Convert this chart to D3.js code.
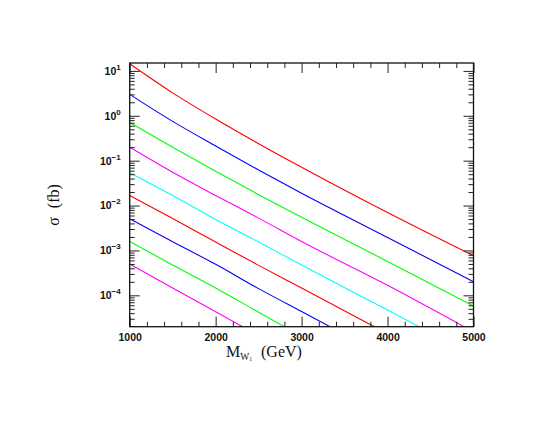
<!DOCTYPE html>
<meta charset="utf-8">
<style>
  body { margin: 0; background: #fff; }
  svg { display: block; }
  .tick line { stroke: #222; stroke-width: 1; }
  .lab { font-family: "Liberation Sans", Arial, sans-serif; font-weight: bold; fill: #111; }
  .title { font-family: "Liberation Serif", "DejaVu Serif", serif; fill: #111; }
</style>
<body>
<div id="chart"></div>
<script src="https://d3js.org/d3.v7.min.js"></script>
<script>
  const mass = [1000, 1500, 2000, 2500, 3000, 4000, 5000];

  // cross sections (fb), top curve first; null = already below the frame
  const red1     = [14.5, 3.24, 0.845, 0.239, 0.0713, 6.98e-3, 7.6e-4];
  const blue1    = [3.0, 0.75, 0.212, 0.062, 0.0189, 1.95e-3, 2.0e-4];
  const green1   = [0.71, 0.199, 0.058, 0.0175, 5.5e-3, 5.7e-4, 5.8e-5];
  const magenta1 = [0.199, 0.0552, 0.0167, 5.25e-3, 1.58e-3, 1.67e-4, null];
  const cyan1    = [0.054, 0.0167, 4.9e-3, 1.54e-3, 4.74e-4, 4.7e-5, null];
  const red2     = [0.0167, 5.14e-3, 1.54e-3, 4.65e-4, 1.46e-4, null, null];
  const blue2    = [5.06e-3, 1.56e-3, 4.9e-4, 1.41e-4, 4.35e-5, null, null];
  const green2   = [1.58e-3, 4.74e-4, 1.46e-4, 4.2e-5, null, null, null];
  const magenta2 = [5.0e-4, 1.46e-4, 4.3e-5, null, null, null, null];

  // mass where a curve runs out through the bottom of the frame
  const exitMass = [null, null, null, 4890, 4367, 3846, 3331, 2800, 2314];

  const series = [red1, blue1, green1, magenta1, cyan1, red2, blue2, green2, magenta2];
  const colors = ["#ff0000", "#0000ff", "#00ff00", "#ff00ff", "#00ffff",
                  "#ff0000", "#0000ff", "#00ff00", "#ff00ff"];

  const xTicks = [1000, 2000, 3000, 4000, 5000];
  const yDecades = [1e-4, 1e-3, 1e-2, 1e-1, 1, 10];
  const yExp = ["\u22124", "\u22123", "\u22122", "\u22121", "0", "1"];

  const width = 554, height = 428;
  const pLeft = 129.7, pRight = 473.5, pTop = 63, pBottom = 326.7;

  const svg = d3.select("#chart").append("svg")
    .attr("width", width).attr("height", height);

  const x = d3.scaleLinear().domain([1000, 5000]).range([pLeft, pRight]);
  const y = d3.scaleLog().domain([2e-5, 15]).range([pBottom, pTop]);

  svg.append("clipPath").attr("id", "plot")
    .append("rect")
    .attr("x", pLeft).attr("y", pTop)
    .attr("width", pRight - pLeft).attr("height", pBottom - pTop);

  // curves
  const line = d3.line()
    .x(d => x(d[0]))
    .y(d => y(d[1]))
    .curve(d3.curveMonotoneX);

  const g = svg.append("g").attr("clip-path", "url(#plot)");
  series.forEach((vals, i) => {
    const pts = mass.map((m, j) => [m, vals[j]]).filter(d => d[1] != null);
    if (exitMass[i] != null) pts.push([exitMass[i], y.domain()[0]]);
    g.append("path")
      .datum(pts)
      .attr("d", line)
      .attr("fill", "none")
      .attr("stroke", colors[i])
      .attr("stroke-width", 1.1);
  });

  // minor tick positions
  const xMinor = d3.range(1200, 5000, 200).filter(v => v % 1000 !== 0);
  const yMinor = [];
  [1e-5, 1e-4, 1e-3, 1e-2, 1e-1, 1].forEach(dec => {
    for (let k = 2; k <= 9; k++) {
      const v = k * dec;
      if (v > 2e-5 && v < 15) yMinor.push(v);
    }
  });

  // ticks on all four sides, pointing in
  const addAxis = (axis, tx, ty) => {
    const a = svg.append("g").attr("transform", `translate(${tx},${ty})`).call(axis);
    a.select(".domain").remove();
    return a;
  };

  const xb = addAxis(d3.axisBottom(x).tickValues(xTicks).tickSize(-10).tickPadding(7)
    .tickFormat(d3.format("d")), 0, pBottom);
  xb.selectAll("text").attr("class", "lab").style("font-size", "10.5px").attr("dy", "0.71em").attr("y", 7);
  addAxis(d3.axisBottom(x).tickValues(xMinor).tickSize(-5).tickFormat(""), 0, pBottom);
  addAxis(d3.axisTop(x).tickValues(xTicks).tickSize(-10).tickFormat(""), 0, pTop);
  addAxis(d3.axisTop(x).tickValues(xMinor).tickSize(-5).tickFormat(""), 0, pTop);

  const yl = addAxis(d3.axisLeft(y).tickValues(yDecades).tickSize(-10).tickPadding(9)
    .tickFormat(""), pLeft, 0);
  yl.selectAll(".tick text").each(function(d, i) {
    const t = d3.select(this).attr("class", "lab").attr("dy", "0.32em").style("font-size", "10.5px");
    t.append("tspan").text("10");
    t.append("tspan").attr("dy", "-5").style("font-size", "8px").text(yExp[i]);
  });
  addAxis(d3.axisLeft(y).tickValues(yMinor).tickSize(-5).tickFormat(""), pLeft, 0);
  addAxis(d3.axisRight(y).tickValues(yDecades).tickSize(-10).tickFormat(""), pRight, 0);
  addAxis(d3.axisRight(y).tickValues(yMinor).tickSize(-5).tickFormat(""), pRight, 0);

  // frame
  svg.append("rect")
    .attr("x", pLeft).attr("y", pTop)
    .attr("width", pRight - pLeft).attr("height", pBottom - pTop)
    .attr("fill", "none").attr("stroke", "#111").attr("stroke-width", 1.3);

  // axis titles
  const xt = svg.append("text").attr("class", "title")
    .attr("x", 264).attr("y", 357)
    .attr("text-anchor", "middle").style("font-size", "16px");
  xt.append("tspan").text("M");
  xt.append("tspan").attr("dy", 2.5).style("font-size", "9.5px").text("W");
  xt.append("tspan").attr("dy", 1.5).style("font-size", "5.5px").text("1");
  xt.append("tspan").attr("dy", -4).attr("dx", 9).text("(GeV)");

  const yt = svg.append("text").attr("class", "title")
    .attr("transform", "translate(58.5,205) rotate(-90)")
    .attr("text-anchor", "middle").style("font-size", "16px");
  yt.append("tspan").text("\u03c3");
  yt.append("tspan").attr("dx", 9).text("(fb)");
</script>
</body>
